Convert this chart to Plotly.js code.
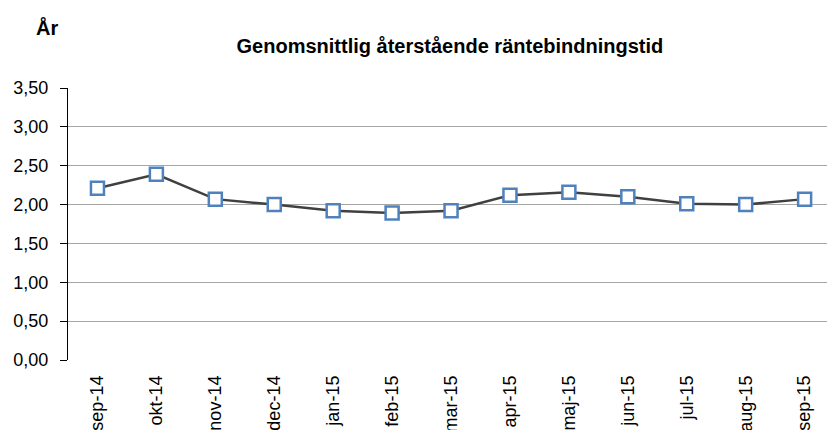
<!DOCTYPE html>
<html>
<head>
<meta charset="utf-8">
<script src="https://cdn.plot.ly/plotly-3.0.1.min.js"></script>
<style>html,body{margin:0;padding:0;background:#fff;}#chart{width:827px;height:430px;}</style>
</head>
<body>
<div id="chart"></div>
<script>
const categories = ["sep-14","okt-14","nov-14","dec-14","jan-15","feb-15","mar-15","apr-15","maj-15","jun-15","jul-15","aug-15","sep-15"];
const values = [2.21, 2.39, 2.07, 2.00, 1.92, 1.89, 1.92, 2.12, 2.16, 2.10, 2.01, 2.00, 2.07];
const yTicks = [0, 0.5, 1, 1.5, 2, 2.5, 3, 3.5];
const chartTitle = "Genomsnittlig återstående räntebindningstid";
const yUnit = "År";

const trace = {
  x: categories,
  y: values,
  type: "scatter",
  mode: "lines+markers",
  line: {color: "#404040", width: 2.5},
  marker: {symbol: "square", size: 13, color: "#ffffff", line: {color: "#4F81BD", width: 2.5}},
  hoverinfo: "skip"
};

const layout = {
  width: 827, height: 430,
  margin: {l: 68, r: 0, t: 88, b: 70, pad: 0},
  paper_bgcolor: "#ffffff", plot_bgcolor: "#ffffff",
  font: {family: "Liberation Sans, Arial, sans-serif", color: "#000"},
  separators: ", ",
  showlegend: false,
  title: {text: "<b>" + chartTitle + "</b>", font: {size: 20, color: "#000"}, x: 0.544, xanchor: "center", y: 0.893, yanchor: "middle"},
  xaxis: {
    type: "category", range: [-0.5, 12.38],
    showgrid: false, showline: false, zeroline: false,
    ticks: "", tickangle: -90, tickfont: {size: 18},
    ticklabelstandoff: 11, fixedrange: true
  },
  yaxis: {
    range: [0, 3.5], tickvals: yTicks, tickformat: ".2f",
    showgrid: true, gridcolor: "#a6a6a6", gridwidth: 1,
    showline: true, linecolor: "#000", linewidth: 1,
    zeroline: false,
    ticks: "outside", ticklen: 7, tickcolor: "#000", tickwidth: 1,
    tickfont: {size: 18}, ticklabelstandoff: 8, fixedrange: true
  },
  annotations: [{
    text: "<b>" + yUnit + "</b>", xref: "paper", yref: "paper",
    x: (47 - 68) / 759, y: (430 - 70 - 28) / 272 , xanchor: "center", yanchor: "middle",
    showarrow: false, font: {size: 20, color: "#000"}
  }]
};

Plotly.newPlot("chart", [trace], layout, {staticPlot: true, displayModeBar: false});
</script>
</body>
</html>
